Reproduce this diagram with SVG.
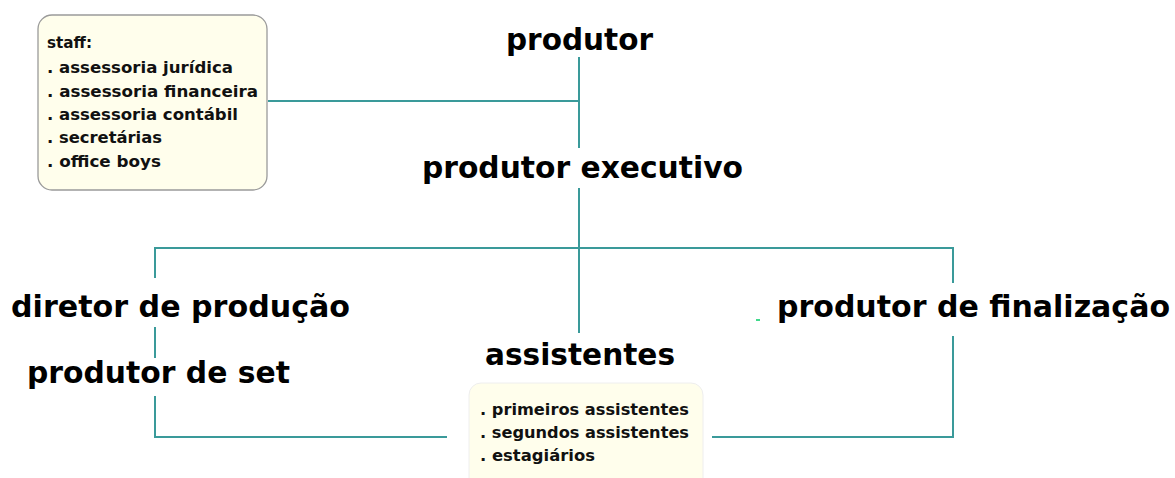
<svg xmlns="http://www.w3.org/2000/svg" width="1175" height="478" viewBox="0 0 1175 478">
<style>
.big{font-family:"DejaVu Sans","Liberation Sans",sans-serif;font-weight:bold;font-size:30px;fill:#000}
.small{font-family:"DejaVu Sans","Liberation Sans",sans-serif;font-weight:bold;font-size:16px;fill:#111}
.box{fill:#FFFEEC;stroke:#9a9a9a;stroke-width:1.3}
.box2{fill:#FFFEEC;stroke:#eeeeee;stroke-width:1}
.conn{fill:none;stroke:#3a9a9a;stroke-width:2}
</style>
<rect width="1175" height="478" fill="#fff"/>
<g id="connectors">
<path class="conn" d="M268 101H579M579 57V148M579 188V333"/>
<path class="conn" d="M155 278V248H953V283"/>
<path class="conn" d="M155 327V358M155 396V437H447"/>
<path class="conn" d="M953 336V437H712"/>
<path d="M756 320H760" stroke="#00cc66" stroke-width="1.5"/>
</g>
<g id="staff">
<rect class="box" x="38" y="15" width="229" height="175" rx="14"/>
<text class="small" x="47" y="48" textLength="45" lengthAdjust="spacingAndGlyphs">staff:</text>
<text class="small" x="47" y="73" textLength="186" lengthAdjust="spacingAndGlyphs">. assessoria jurídica</text>
<text class="small" x="47" y="97" textLength="211" lengthAdjust="spacingAndGlyphs">. assessoria financeira</text>
<text class="small" x="47" y="120" textLength="191" lengthAdjust="spacingAndGlyphs">. assessoria contábil</text>
<text class="small" x="47" y="143" textLength="115" lengthAdjust="spacingAndGlyphs">. secretárias</text>
<text class="small" x="47" y="167" textLength="114" lengthAdjust="spacingAndGlyphs">. office boys</text>
</g>
<g id="produtor"><text class="big" x="506" y="50" textLength="147" lengthAdjust="spacingAndGlyphs">produtor</text></g>
<g id="produtor-executivo"><text class="big" x="422" y="178" textLength="321" lengthAdjust="spacingAndGlyphs">produtor executivo</text></g>
<g id="diretor-de-producao"><text class="big" x="11" y="317" textLength="339" lengthAdjust="spacingAndGlyphs">diretor de produção</text></g>
<g id="produtor-de-set"><text class="big" x="27" y="383" textLength="263" lengthAdjust="spacingAndGlyphs">produtor de set</text></g>
<g id="produtor-de-finalizacao"><text class="big" x="777" y="317" textLength="393" lengthAdjust="spacingAndGlyphs">produtor de finalização</text></g>
<g id="assistentes">
<text class="big" x="485" y="365" textLength="190" lengthAdjust="spacingAndGlyphs">assistentes</text>
<rect class="box2" x="469" y="383" width="234" height="110" rx="12"/>
<text class="small" x="480" y="415" textLength="209" lengthAdjust="spacingAndGlyphs">. primeiros assistentes</text>
<text class="small" x="480" y="438" textLength="209" lengthAdjust="spacingAndGlyphs">. segundos assistentes</text>
<text class="small" x="480" y="461" textLength="115" lengthAdjust="spacingAndGlyphs">. estagiários</text>
</g>
</svg>
